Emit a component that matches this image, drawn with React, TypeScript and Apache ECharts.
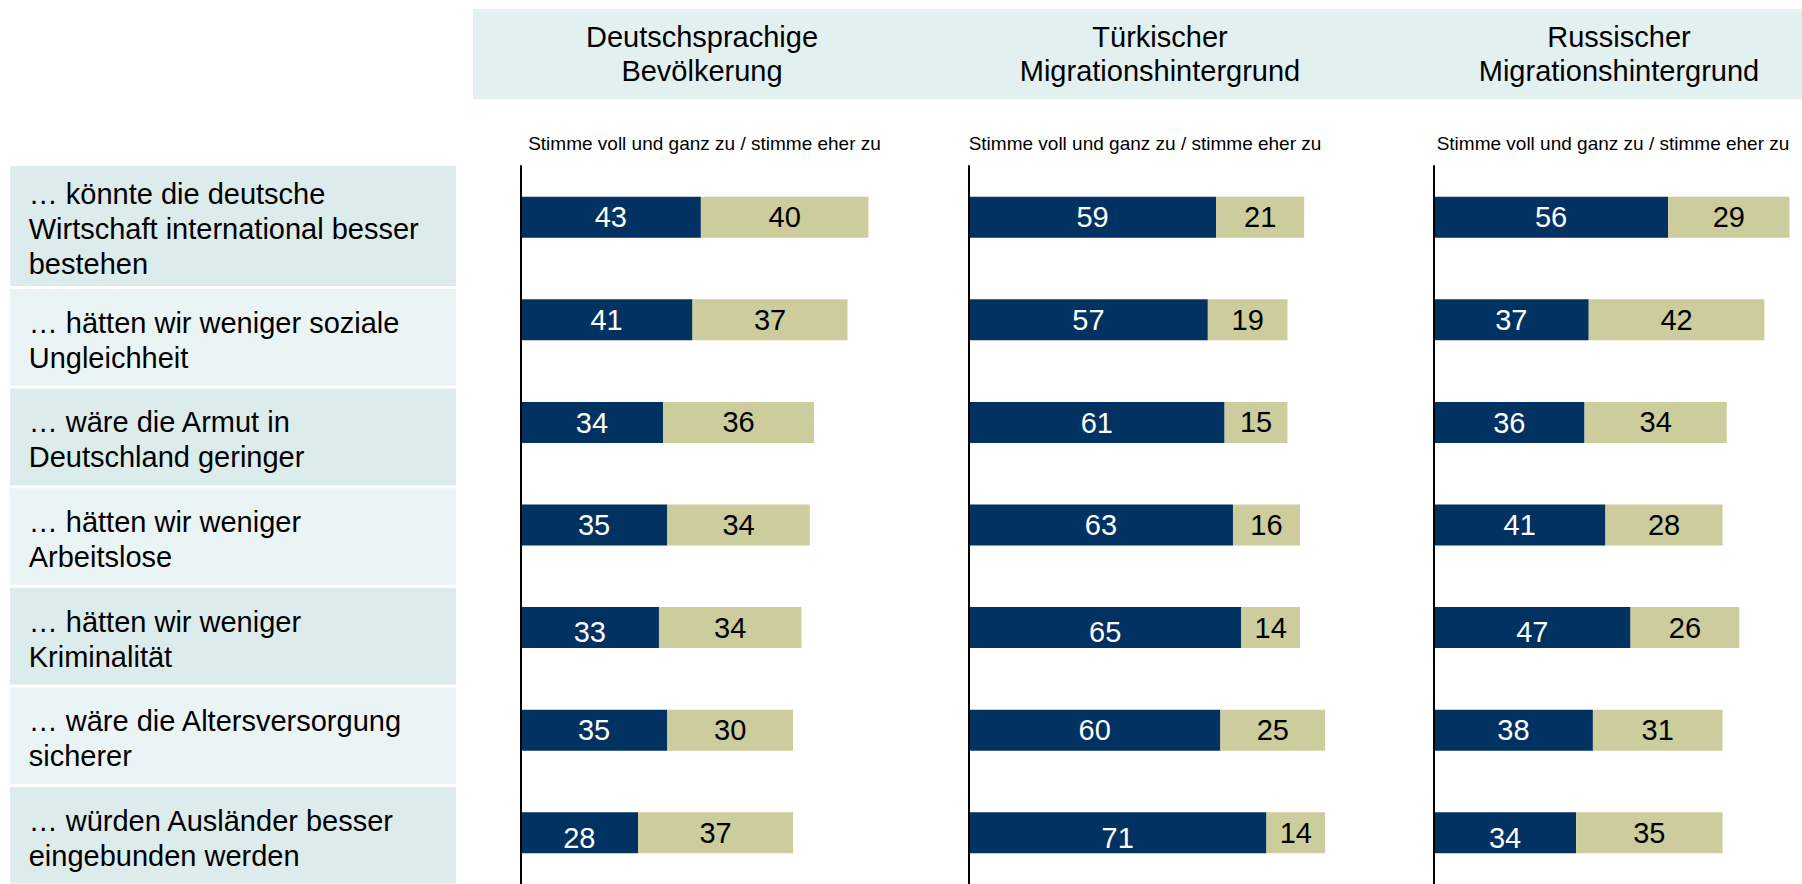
import React, { useEffect, useRef } from "react";
import * as echarts from "echarts";

// ---- Data ----
const categories = [
  "… könnte die deutsche\nWirtschaft international besser\nbestehen",
  "… hätten wir weniger soziale\nUngleichheit",
  "… wäre die Armut in\nDeutschland geringer",
  "… hätten wir weniger\nArbeitslose",
  "… hätten wir weniger\nKriminalität",
  "… wäre die Altersversorgung\nsicherer",
  "… würden Ausländer besser\neingebunden werden",
];

const groups = [
  "Deutschsprachige\nBevölkerung",
  "Türkischer\nMigrationshintergrund",
  "Russischer\nMigrationshintergrund",
];

const subtitle = "Stimme voll und ganz zu / stimme eher zu";
const seriesNames = ["Stimme voll und ganz zu", "Stimme eher zu"];

const fullyAgreeDeutsch = [43, 41, 34, 35, 33, 35, 28];
const fullyAgreeTuerk = [59, 57, 61, 63, 65, 60, 71];
const fullyAgreeRuss = [56, 37, 36, 41, 47, 38, 34];

const ratherAgreeDeutsch = [40, 37, 36, 34, 34, 30, 37];
const ratherAgreeTuerk = [21, 19, 15, 16, 14, 25, 14];
const ratherAgreeRuss = [29, 42, 34, 28, 26, 31, 35];

const fullyAgree = [fullyAgreeDeutsch, fullyAgreeTuerk, fullyAgreeRuss];
const ratherAgree = [ratherAgreeDeutsch, ratherAgreeTuerk, ratherAgreeRuss];

// ---- Layout / style ----
const FONT = '"Liberation Sans", Arial, Helvetica, sans-serif';
const DARK = "#013262";
const TAN = "#CCCC9C";
const HEADER_BG = "#E2F0F0";
const ROW_DARK = "#DCEBEB";
const ROW_LIGHT = "#EBF4F4";

const gridLeft = [520.7, 969, 1434];
const titleX = [702, 1160, 1619];
const subtitleX = [704.5, 1145, 1613];
const PX_PER_UNIT = 4.19;
const X_MAX = 88;
const GRID_TOP = 166;
const BAND = 102.8;
const darkLabelDy = [0, 0, 1, 0, 4, 0, 5];

function rowBox(i: number) {
  if (i === 0) return { y: 166, h: 120 };
  return { y: 289 + (i - 1) * 99.6, h: 96.6 };
}

export default function App() {
  const ref = useRef<HTMLDivElement>(null);

  useEffect(() => {
    if (!ref.current) return;
    const chart = echarts.init(ref.current, undefined, { renderer: "svg" });

    const graphic: any[] = [
      {
        type: "rect",
        silent: true,
        shape: { x: 473, y: 9, width: 1329, height: 90 },
        style: { fill: HEADER_BG },
        z: 0,
      },
    ];
    groups.forEach((g, i) => {
      graphic.push({
        type: "text",
        x: titleX[i],
        y: 54,
        silent: true,
        style: {
          text: g,
          fontSize: 29,
          fontFamily: FONT,
          fill: "#000",
          align: "center",
          verticalAlign: "middle",
          lineHeight: 34.5,
        },
        z: 2,
      });
      graphic.push({
        type: "text",
        x: subtitleX[i],
        y: 143.5,
        silent: true,
        style: {
          text: subtitle,
          fontSize: 19,
          fontFamily: FONT,
          fill: "#000",
          align: "center",
          verticalAlign: "middle",
        },
        z: 2,
      });
    });
    categories.forEach((c, i) => {
      const b = rowBox(i);
      graphic.push({
        type: "rect",
        silent: true,
        shape: { x: 10, y: b.y, width: 446, height: b.h },
        style: { fill: i % 2 === 0 ? ROW_DARK : ROW_LIGHT },
        z: 0,
      });
      graphic.push({
        type: "text",
        x: 28.7,
        y: b.y + b.h / 2 + 3,
        silent: true,
        style: {
          text: c,
          fontSize: 29,
          fontFamily: FONT,
          fill: "#000",
          align: "left",
          verticalAlign: "middle",
          lineHeight: 35,
        },
        z: 2,
      });
    });

    const grids = gridLeft.map((l) => ({
      left: l,
      top: GRID_TOP,
      width: X_MAX * PX_PER_UNIT,
      height: BAND * categories.length,
      containLabel: false,
    }));

    const xAxes = gridLeft.map((_, i) => ({
      type: "value",
      gridIndex: i,
      min: 0,
      max: X_MAX,
      show: false,
    }));

    const yAxes = gridLeft.map((_, i) => ({
      type: "category",
      gridIndex: i,
      data: categories,
      inverse: true,
      axisLine: { show: true, lineStyle: { color: "#000", width: 2 } },
      axisTick: { show: false },
      axisLabel: { show: false },
      splitLine: { show: false },
      z: 5,
    }));

    const series: any[] = [];
    gridLeft.forEach((_, i) => {
      series.push({
        name: seriesNames[0],
        type: "bar",
        xAxisIndex: i,
        yAxisIndex: i,
        stack: "s" + i,
        barWidth: 41,
        itemStyle: { color: DARK },
        label: {
          show: true,
          position: "inside",
          color: "#fff",
          fontSize: 29,
          fontFamily: FONT,
        },
        data: fullyAgree[i].map((v, k) => ({
          value: v,
          label: { offset: [0, darkLabelDy[k]] },
        })),
      });
      series.push({
        name: seriesNames[1],
        type: "bar",
        xAxisIndex: i,
        yAxisIndex: i,
        stack: "s" + i,
        barWidth: 41,
        itemStyle: { color: TAN },
        label: {
          show: true,
          position: "inside",
          color: "#000",
          fontSize: 29,
          fontFamily: FONT,
        },
        data: ratherAgree[i],
      });
    });

    chart.setOption({
      animation: false,
      backgroundColor: "#fff",
      textStyle: { fontFamily: FONT },
      grid: grids,
      xAxis: xAxes,
      yAxis: yAxes,
      series,
      graphic,
    });

    return () => chart.dispose();
  }, []);

  return (
    <div
      ref={ref}
      style={{ position: "absolute", left: 0, top: 0, width: 1802, height: 884 }}
    />
  );
}
